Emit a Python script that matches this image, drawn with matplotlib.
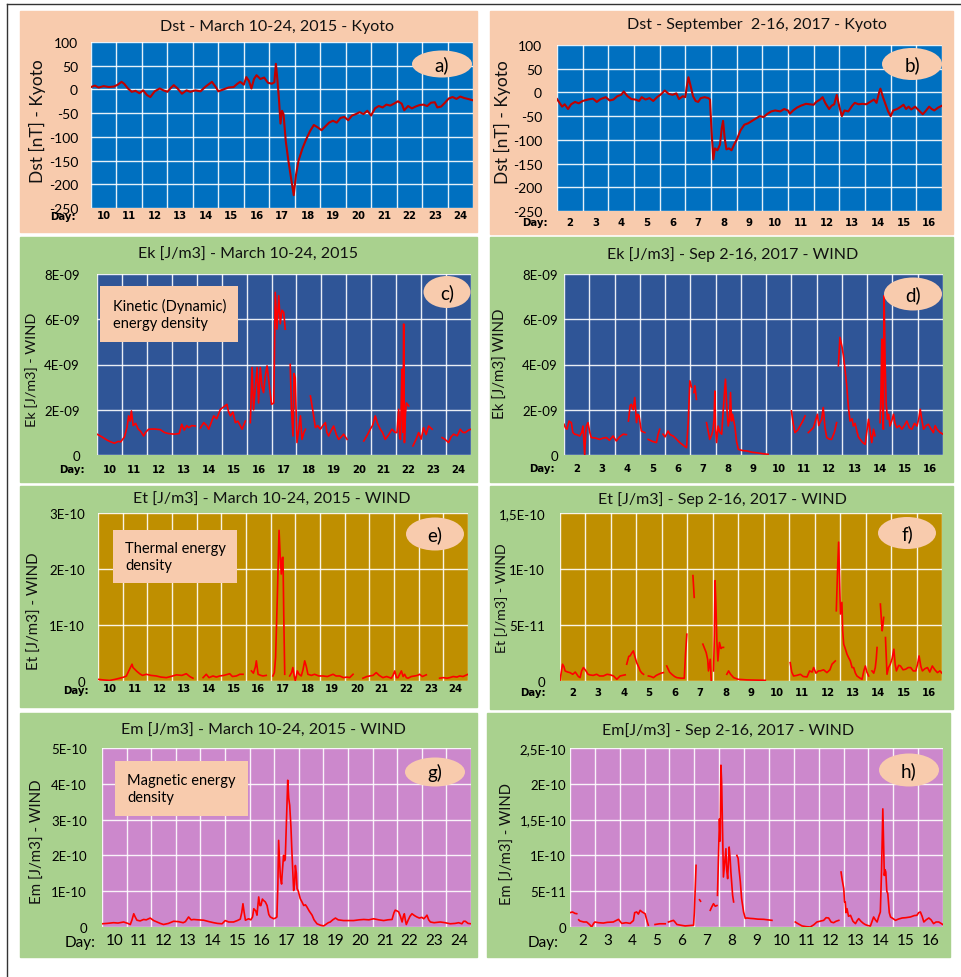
import numpy as np
import matplotlib.pyplot as plt
from matplotlib.lines import Line2D
from matplotlib.patches import Ellipse, Rectangle

W, H = 961, 978
plt.rcParams["font.family"] = ["Lato", "DejaVu Sans"]

# ---------------- data (day of month, value); (None, None) marks a data gap ----------------
DAYS_2015 = list(range(10, 25))
DAYS_2017 = list(range(2, 17))

# Dst [nT], March 2015
DST_2015 = [
    (10.0, 5), (10.15, 8), (10.3, 4), (10.5, 7), (10.7, 5), (10.9, 6), (11.05, 10), (11.2, 16),
    (11.3, 12), (11.45, 2), (11.6, -5), (11.75, -3), (11.9, -8), (12.05, -2), (12.2, -12), (12.33, -16),
    (12.5, -4), (12.7, 2), (12.85, -2), (13.0, -5), (13.15, 4), (13.25, 9), (13.4, 2), (13.57, -9),
    (13.75, -2), (13.9, -5), (14.1, -2), (14.3, -4), (14.5, 6), (14.75, 16), (14.9, 5), (15.0, -4),
    (15.2, 0), (15.4, 4), (15.6, 5), (15.75, 12), (15.86, 16), (16.0, 10), (16.1, 26), (16.2, 18),
    (16.3, 2), (16.4, 22), (16.5, 30), (16.65, 22), (16.8, 25), (16.95, 14), (17.1, 12), (17.2, 15),
    (17.26, 54), (17.32, 20), (17.38, -20), (17.44, -72), (17.5, -45), (17.56, -52), (17.65, -110),
    (17.75, -150), (17.85, -185), (17.96, -223), (18.05, -180), (18.15, -150), (18.3, -125),
    (18.45, -105), (18.6, -88), (18.75, -75), (18.9, -80), (19.05, -86), (19.2, -78), (19.35, -70),
    (19.5, -66), (19.65, -70), (19.8, -60), (19.95, -58), (20.1, -65), (20.25, -55), (20.4, -52),
    (20.55, -48), (20.7, -52), (20.85, -45), (21.0, -55), (21.15, -40), (21.3, -35), (21.45, -38),
    (21.6, -32), (21.75, -34), (21.9, -30), (22.05, -25), (22.2, -30), (22.3, -44), (22.45, -35),
    (22.6, -40), (22.75, -36), (22.9, -33), (23.05, -32), (23.2, -35), (23.35, -28), (23.5, -27),
    (23.6, -38), (23.75, -36), (23.9, -28), (24.05, -19), (24.2, -16), (24.35, -20), (24.5, -15),
    (24.65, -18), (24.8, -20), (25.0, -23),
]

# Dst [nT], September 2017
DST_2017 = [
    (2.0, -14), (2.1, -22), (2.2, -30), (2.3, -25), (2.43, -35), (2.55, -25), (2.7, -20), (2.85, -23),
    (3.0, -18), (3.2, -15), (3.4, -13), (3.55, -20), (3.7, -14), (3.9, -10), (4.05, -17), (4.2, -15),
    (4.35, -8), (4.5, -5), (4.6, 2), (4.75, -8), (4.9, -14), (5.05, -15), (5.2, -18), (5.3, -10),
    (5.45, -15), (5.6, -12), (5.75, -18), (5.9, -10), (6.05, -4), (6.2, 4), (6.35, -3), (6.5, -5),
    (6.65, -2), (6.75, -14), (6.9, -8), (7.0, -10), (7.05, 10), (7.12, 32), (7.2, 15), (7.3, -8),
    (7.4, -18), (7.5, -20), (7.6, -12), (7.75, -10), (7.9, -12), (7.96, -15), (8.02, -80),
    (8.09, -141), (8.15, -118), (8.25, -122), (8.35, -110), (8.42, -75), (8.47, -60), (8.53, -95),
    (8.6, -120), (8.7, -118), (8.8, -122), (8.9, -110), (9.0, -100), (9.15, -80), (9.3, -68),
    (9.45, -65), (9.6, -60), (9.75, -55), (9.9, -50), (10.05, -52), (10.2, -45), (10.35, -40),
    (10.5, -38), (10.7, -40), (10.85, -35), (11.0, -38), (11.07, -45), (11.2, -38), (11.35, -32),
    (11.5, -28), (11.7, -24), (11.85, -25), (12.0, -26), (12.1, -20), (12.25, -15), (12.35, -10),
    (12.45, -22), (12.6, -35), (12.7, -28), (12.8, -25), (12.9, -5), (13.0, -30), (13.1, -50),
    (13.2, -38), (13.35, -40), (13.5, -28), (13.6, -22), (13.75, -25), (13.9, -24), (14.05, -25),
    (14.2, -20), (14.35, -15), (14.45, -22), (14.55, 0), (14.6, 8), (14.7, -10), (14.8, -25),
    (14.9, -40), (15.0, -50), (15.1, -38), (15.25, -35), (15.4, -30), (15.5, -26), (15.6, -35),
    (15.7, -30), (15.8, -36), (15.95, -30), (16.1, -38), (16.25, -46), (16.35, -40), (16.5, -30),
    (16.6, -35), (16.7, -38), (16.85, -32), (17.0, -28),
]

# Ek [1E-09 J/m3], March 2015
EK_2015 = [
    (10.0, 0.92), (10.2, 0.8), (10.4, 0.66), (10.55, 0.58), (10.7, 0.52), (10.85, 0.6), (10.95, 0.58),
    (11.1, 0.8), (11.2, 1.2), (11.27, 1.73), (11.33, 1.5), (11.38, 1.95), (11.45, 1.3), (11.55, 1.4),
    (11.65, 1.15), (11.75, 1.05), (11.87, 0.84), (11.95, 1.0), (12.07, 1.14), (12.3, 1.15),
    (12.54, 1.12), (12.7, 1.0), (12.85, 0.95), (13.1, 0.92), (13.3, 0.95), (13.4, 1.36), (13.5, 1.1),
    (13.6, 1.3), (13.68, 1.21), (13.8, 1.3), (13.94, 1.28), (None, None),
    (14.15, 1.2), (14.28, 1.43), (14.4, 1.3), (14.48, 1.14), (14.6, 1.5), (14.68, 1.73), (14.8, 1.6),
    (14.95, 2.02), (15.05, 2.1), (15.21, 2.24), (15.28, 1.9), (15.35, 1.73), (15.45, 1.9),
    (15.55, 1.43), (15.65, 1.5), (15.82, 1.14), (15.95, 1.5), (None, None),
    (16.15, 1.43), (16.22, 3.87), (16.28, 2.0), (16.35, 3.0), (16.42, 3.87), (16.48, 2.3),
    (16.55, 3.87), (16.62, 3.0), (16.68, 2.76), (16.75, 3.5), (16.82, 3.94), (16.9, 3.2), (17.0, 2.24),
    (17.09, 2.3), (17.15, 7.19), (17.22, 5.56), (17.29, 7.04), (17.35, 5.8), (17.42, 6.4),
    (17.49, 6.3), (17.55, 5.56), (None, None),
    (17.75, 4.0), (17.8, 2.0), (17.86, 0.84), (17.9, 3.6), (17.95, 3.42), (18.02, 0.55), (18.1, 1.2),
    (18.16, 1.73), (18.22, 0.69), (18.3, 1.0), (18.36, 1.14), (None, None),
    (18.56, 2.61), (18.65, 2.0), (18.76, 1.21), (18.85, 1.3), (18.96, 1.14), (19.06, 1.3),
    (19.16, 1.43), (19.22, 1.0), (19.29, 0.84), (19.4, 1.1), (19.49, 1.28), (19.6, 0.9), (19.69, 0.69),
    (19.8, 0.8), (19.89, 0.92), (20.03, 0.69), (None, None),
    (20.7, 0.62), (20.85, 0.9), (20.96, 1.14), (21.05, 1.3), (21.16, 1.73), (21.25, 1.4),
    (21.36, 1.14), (21.45, 1.0), (21.56, 0.69), (21.7, 0.9), (21.83, 1.14), (21.95, 1.0),
    (22.03, 0.99), (22.1, 2.02), (22.14, 0.8), (22.17, 0.69), (22.2, 2.1), (22.23, 3.79), (22.27, 1.0),
    (22.3, 5.79), (22.33, 0.55), (22.37, 1.8), (22.41, 2.3), (22.5, 2.17), (None, None),
    (22.67, 0.4), (22.8, 0.7), (22.9, 0.99), (23.0, 0.7), (23.1, 1.21), (23.2, 0.9), (23.3, 1.28),
    (23.44, 1.14), (None, None),
    (23.84, 0.77), (23.95, 0.7), (24.1, 0.55), (24.2, 0.8), (24.3, 0.92), (24.45, 0.85), (24.57, 1.14),
    (24.67, 1.0), (24.77, 0.99), (24.9, 1.1), (25.0, 1.14),
]

# Ek [1E-09 J/m3], September 2017
EK_2017 = [
    (2.0, 1.36), (2.06, 1.2), (2.12, 1.14), (2.2, 1.5), (2.29, 1.43), (2.35, 1.0), (2.42, 0.92),
    (2.5, 0.9), (2.62, 0.84), (2.7, 1.0), (2.75, 1.28), (2.8, 0.4), (2.82, 0.0), (2.86, 1.0),
    (2.89, 1.28), (2.95, 1.43), (3.02, 1.0), (3.08, 0.77), (3.25, 0.75), (3.41, 0.69), (3.55, 0.75),
    (3.68, 0.77), (3.8, 0.65), (3.94, 0.84), (4.07, 0.62), (4.2, 0.8), (4.34, 0.92), (4.47, 0.9),
    (None, None),
    (4.55, 1.5), (4.62, 2.2), (4.67, 2.24), (4.74, 2.0), (4.8, 2.54), (4.87, 1.43), (4.92, 1.8),
    (4.97, 1.73), (5.06, 1.06), (5.2, 0.99), (None, None),
    (5.33, 0.69), (5.5, 0.6), (5.66, 0.55), (5.72, 0.9), (5.79, 1.14), (None, None),
    (5.92, 0.92), (6.0, 0.8), (6.12, 1.06), (6.2, 0.9), (6.32, 0.84), (6.45, 0.7), (6.58, 0.55),
    (6.7, 0.45), (6.85, 0.32), (6.92, 1.5), (6.98, 3.28), (7.05, 3.0), (None, None),
    (7.14, 2.76), (7.18, 3.06), (7.24, 2.46), (None, None),
    (7.64, 1.43), (7.7, 1.1), (7.77, 0.69), (7.85, 0.9), (7.9, 1.14), (7.94, 1.6), (7.97, 2.83),
    (8.0, 1.2), (8.04, 0.55), (8.1, 1.28), (8.17, 1.0), (8.24, 0.92), (8.3, 1.95), (8.39, 3.35),
    (8.45, 2.0), (8.5, 1.28), (8.55, 1.6), (8.59, 2.76), (8.63, 1.5), (8.67, 1.8), (8.72, 1.5),
    (8.76, 1.28), (8.83, 0.6), (8.9, 0.25), (9.05, 0.2), (9.23, 0.18), (9.45, 0.12), (9.62, 0.1),
    (9.85, 0.06), (10.08, 0.03), (None, None),
    (11.0, 1.95), (11.07, 1.4), (11.14, 0.99), (11.25, 1.1), (11.34, 1.28), (11.45, 1.5),
    (11.54, 1.73), (None, None),
    (11.67, 0.99), (11.77, 1.1), (11.87, 1.21), (11.95, 1.5), (12.03, 1.8), (12.08, 1.3),
    (12.13, 1.43), (12.2, 1.6), (12.26, 2.1), (12.33, 1.2), (12.4, 0.77), (12.5, 0.7), (12.59, 0.69),
    (12.7, 1.0), (12.79, 1.43), (None, None),
    (12.86, 3.94), (12.92, 5.2), (13.0, 4.8), (13.06, 4.38), (13.12, 3.8), (13.19, 3.06),
    (13.25, 2.2), (13.32, 1.5), (13.4, 1.6), (13.45, 1.28), (13.52, 1.4), (13.59, 1.06), (13.65, 0.8),
    (13.72, 0.69), (13.82, 0.55), (13.92, 0.47), (13.98, 1.0), (14.05, 1.58), (14.12, 1.0),
    (14.18, 0.55), (14.25, 1.14), (14.31, 0.85), (None, None),
    (14.51, 1.43), (14.55, 3.0), (14.58, 5.12), (14.61, 2.0), (14.64, 1.14), (14.67, 7.04),
    (14.71, 4.0), (14.75, 2.3), (14.8, 1.58), (14.85, 1.8), (14.9, 1.28), (14.97, 1.5), (15.04, 1.8),
    (15.1, 1.4), (15.17, 1.21), (15.27, 1.3), (15.37, 1.14), (15.47, 1.3), (15.57, 1.5), (15.67, 1.2),
    (15.77, 1.14), (15.87, 1.4), (15.97, 1.28), (16.04, 1.6), (16.1, 2.02), (16.17, 1.5),
    (16.23, 1.14), (16.33, 1.3), (16.42, 1.36), (16.5, 1.2), (16.62, 0.99), (16.69, 1.3),
    (16.76, 1.14), (16.88, 1.0), (17.0, 0.92),
]

# Et [1E-10 J/m3], March 2015
ET_2015 = [
    (10.0, 0.03), (10.2, 0.02), (10.47, 0.01), (10.7, 0.03), (10.88, 0.05), (11.05, 0.07),
    (11.15, 0.09), (11.28, 0.21), (11.38, 0.3), (11.42, 0.24), (11.49, 0.21), (11.58, 0.17),
    (11.69, 0.13), (11.8, 0.1), (11.96, 0.12), (12.15, 0.1), (12.36, 0.09), (12.55, 0.07),
    (12.77, 0.06), (12.95, 0.08), (13.18, 0.11), (13.4, 0.1), (13.58, 0.13), (13.72, 0.08),
    (13.85, 0.05), (None, None),
    (14.26, 0.06), (14.39, 0.12), (14.5, 0.06), (14.66, 0.09), (14.8, 0.07), (14.93, 0.09),
    (15.1, 0.1), (15.34, 0.13), (15.45, 0.08), (15.61, 0.09), (15.75, 0.12), (15.88, 0.12),
    (None, None),
    (16.22, 0.18), (16.3, 0.14), (16.38, 0.25), (16.42, 0.36), (16.49, 0.12), (16.6, 0.1),
    (16.69, 0.09), (16.82, 0.1), (None, None),
    (17.09, 0.09), (17.15, 0.15), (17.2, 0.42), (17.27, 1.5), (17.34, 2.69), (17.39, 2.2),
    (17.43, 1.91), (17.47, 2.2), (17.5, 2.21), (17.53, 1.2), (17.57, 0.12), (None, None),
    (17.77, 0.09), (17.85, 0.15), (17.9, 0.24), (17.95, 0.1), (18.0, 0.0), (18.08, 0.18),
    (18.15, 0.12), (18.24, 0.09), (18.31, 0.2), (18.38, 0.36), (18.45, 0.25), (18.51, 0.12),
    (18.65, 0.1), (18.78, 0.12), (18.95, 0.09), (19.12, 0.09), (19.3, 0.08), (19.53, 0.12),
    (19.65, 0.09), (19.8, 0.09), (19.95, 0.06), (20.1, 0.07), (20.2, 0.06), (20.34, 0.12),
    (None, None),
    (20.74, 0.05), (20.9, 0.08), (21.01, 0.09), (21.15, 0.1), (21.28, 0.15), (21.4, 0.1),
    (21.55, 0.06), (21.7, 0.08), (21.89, 0.05), (21.96, 0.1), (22.03, 0.18), (22.1, 0.06),
    (22.16, 0.06), (22.23, 0.12), (22.3, 0.18), (22.37, 0.08), (22.43, 0.12), (22.5, 0.06),
    (22.57, 0.05), (22.7, 0.08), (22.84, 0.09), (22.95, 0.1), (23.04, 0.12), (23.15, 0.08),
    (23.31, 0.11), (None, None),
    (23.85, 0.05), (24.0, 0.06), (24.15, 0.05), (24.26, 0.06), (24.4, 0.08), (24.55, 0.07),
    (24.66, 0.09), (24.8, 0.08), (25.0, 0.12),
]

# Et [1E-11 J/m3], September 2017
ET_2017 = [
    (2.0, 0.0), (2.05, 0.8), (2.1, 1.5), (2.15, 1.3), (2.2, 0.9), (2.3, 0.8), (2.39, 0.75),
    (2.5, 0.6), (2.6, 0.8), (2.66, 0.6), (2.72, 0.4), (2.79, 0.3), (2.85, 0.9), (2.92, 1.2),
    (3.02, 0.9), (3.1, 0.6), (3.18, 0.54), (3.3, 0.5), (3.44, 0.6), (3.55, 0.45), (3.7, 0.45),
    (3.85, 0.6), (3.97, 0.55), (4.1, 0.45), (4.23, 0.15), (4.36, 0.45), (4.46, 0.5), (4.56, 0.55),
    (None, None),
    (4.62, 1.5), (4.7, 2.2), (4.75, 2.24), (4.82, 2.5), (4.88, 2.69), (4.95, 2.1), (5.01, 1.64),
    (5.1, 1.2), (5.15, 0.9), (5.22, 0.7), (5.28, 0.6), (None, None),
    (5.47, 0.45), (5.57, 0.4), (5.67, 0.3), (5.78, 0.5), (5.87, 0.6), (5.97, 0.7), (6.06, 0.75),
    (None, None),
    (6.19, 1.34), (6.3, 0.8), (6.39, 0.6), (6.5, 0.4), (6.59, 0.3), (6.75, 0.25), (6.88, 0.25),
    (6.93, 2.5), (6.98, 4.18), (None, None),
    (7.22, 9.41), (7.27, 7.47), (None, None),
    (7.61, 3.29), (7.68, 2.9), (7.74, 2.54), (7.8, 1.9), (7.83, 0.9), (7.9, 1.94), (7.94, 0.0),
    (None, None),
    (8.03, 0.9), (8.06, 4.0), (8.09, 8.96), (8.12, 7.0), (8.16, 3.59), (8.2, 1.79), (8.26, 3.44),
    (8.32, 2.9), (8.36, 2.99), (8.42, 3.0), (None, None),
    (8.55, 0.6), (8.62, 0.9), (8.7, 0.6), (8.82, 0.3), (9.0, 0.15), (9.34, 0.1), (9.7, 0.08),
    (10.06, 0.06), (None, None),
    (11.04, 1.64), (11.1, 0.8), (11.17, 0.45), (11.3, 0.5), (11.44, 0.6), (11.55, 0.4), (11.7, 0.36),
    (11.8, 0.9), (11.9, 0.8), (11.96, 1.2), (12.05, 0.7), (12.15, 0.9), (12.22, 0.9), (12.35, 1.0),
    (12.48, 0.75), (12.6, 1.0), (12.68, 1.5), (12.81, 1.79), (None, None),
    (12.85, 6.27), (12.9, 10.0), (12.94, 12.4), (12.98, 9.0), (13.01, 5.98), (13.07, 7.02),
    (13.1, 4.5), (13.14, 3.29), (13.2, 2.9), (13.27, 2.39), (13.33, 2.1), (13.4, 1.79), (13.47, 1.2),
    (13.53, 1.2), (13.6, 0.7), (13.66, 0.45), (13.75, 0.3), (13.86, 0.15), (13.93, 0.9),
    (13.99, 1.34), (14.05, 0.8), (14.12, 0.45), (None, None),
    (14.25, 0.9), (14.32, 0.7), (14.38, 1.2), (14.42, 2.0), (14.45, 2.99), (None, None),
    (14.58, 6.87), (14.62, 5.5), (14.65, 4.48), (14.68, 5.0), (14.71, 5.68), (None, None),
    (14.78, 3.88), (14.84, 0.6), (14.9, 1.2), (14.97, 1.5), (15.04, 2.0), (15.11, 2.84), (15.16, 1.5),
    (15.21, 0.9), (15.3, 1.4), (15.37, 1.34), (15.47, 1.0), (15.57, 1.05), (15.67, 1.2),
    (15.77, 1.2), (15.87, 0.9), (15.97, 0.9), (16.04, 1.5), (16.1, 2.24), (16.17, 1.3), (16.23, 0.9),
    (16.33, 1.1), (16.43, 1.2), (16.52, 0.8), (16.62, 1.34), (16.72, 1.0), (16.82, 0.75),
    (16.92, 0.9), (17.0, 0.7),
]

# Em [1E-10 J/m3], March 2015
EM_2015 = [
    (10.0, 0.09), (10.2, 0.1), (10.47, 0.12), (10.65, 0.11), (10.88, 0.14), (11.05, 0.1),
    (11.15, 0.07), (11.22, 0.2), (11.29, 0.37), (11.35, 0.28), (11.42, 0.19), (11.55, 0.17),
    (11.69, 0.21), (11.8, 0.2), (11.96, 0.25), (12.1, 0.18), (12.24, 0.14), (12.37, 0.1),
    (12.5, 0.07), (12.7, 0.1), (12.91, 0.16), (13.1, 0.15), (13.3, 0.12), (13.39, 0.15),
    (13.52, 0.28), (13.62, 0.2), (13.73, 0.21), (13.9, 0.2), (14.13, 0.19), (14.35, 0.15),
    (14.54, 0.12), (14.7, 0.1), (14.88, 0.09), (15.01, 0.18), (15.15, 0.14), (15.35, 0.14),
    (15.5, 0.18), (15.62, 0.22), (15.68, 0.4), (15.73, 0.65), (15.78, 0.4), (15.83, 0.19),
    (15.96, 0.23), (16.05, 0.2), (16.12, 0.28), (16.17, 0.51), (16.25, 0.45), (16.3, 0.33),
    (16.37, 0.84), (16.42, 0.6), (16.46, 0.6), (16.52, 0.78), (16.57, 0.74), (16.64, 0.7),
    (16.71, 0.6), (16.78, 0.35), (16.84, 0.28), (16.93, 0.25), (16.98, 0.23), (17.05, 0.25),
    (17.11, 0.28), (17.15, 1.2), (17.18, 2.42), (17.22, 1.8), (17.25, 1.4), (17.3, 1.2),
    (17.32, 1.44), (17.38, 2.0), (17.42, 1.85), (17.45, 1.91), (17.5, 3.0), (17.55, 4.1),
    (17.59, 3.6), (17.63, 3.4), (17.68, 2.8), (17.72, 2.1), (17.76, 1.5), (17.79, 1.02),
    (17.83, 1.2), (17.86, 1.72), (17.9, 1.5), (17.93, 1.07), (17.98, 1.0), (18.06, 0.79),
    (18.13, 0.7), (18.2, 0.6), (18.27, 0.62), (18.33, 0.56), (18.42, 0.45), (18.54, 0.33),
    (18.62, 0.2), (18.74, 0.09), (18.88, 0.05), (19.01, 0.03), (19.12, 0.08), (19.2, 0.12),
    (19.28, 0.14), (19.38, 0.2), (19.49, 0.25), (19.6, 0.2), (19.82, 0.18), (20.0, 0.18),
    (20.23, 0.18), (20.45, 0.2), (20.64, 0.21), (20.85, 0.2), (21.04, 0.23), (21.25, 0.2),
    (21.45, 0.18), (21.62, 0.2), (21.79, 0.21), (21.87, 0.4), (21.92, 0.47), (21.99, 0.45),
    (22.06, 0.42), (22.13, 0.3), (22.2, 0.14), (22.25, 0.3), (22.29, 0.37), (22.33, 0.2),
    (22.37, 0.07), (22.45, 0.2), (22.52, 0.3), (22.6, 0.37), (22.7, 0.32), (22.8, 0.28),
    (22.9, 0.25), (23.0, 0.27), (23.08, 0.23), (23.15, 0.28), (23.21, 0.33), (23.28, 0.2),
    (23.35, 0.14), (23.5, 0.12), (23.75, 0.14), (23.95, 0.12), (24.15, 0.09), (24.35, 0.1),
    (24.5, 0.12), (24.63, 0.09), (24.7, 0.16), (24.77, 0.16), (24.88, 0.1), (25.0, 0.09),
]

# Em [1E-11 J/m3], September 2017
EM_2017 = [
    (2.0, 2.0), (2.1, 2.1), (2.2, 1.9), (2.27, 1.86), (None, None),
    (2.35, 1.0), (2.4, 0.84), (2.55, 0.7), (2.67, 0.7), (2.8, 0.3), (2.87, 0.0), (2.95, 0.5),
    (3.0, 0.7), (3.15, 0.6), (3.34, 0.55), (3.5, 0.65), (3.74, 0.7), (3.85, 0.9), (3.95, 1.07),
    (4.08, 0.5), (4.25, 0.6), (4.42, 0.5), (4.55, 0.9), (4.6, 2.0), (4.68, 2.1), (4.75, 1.8),
    (4.82, 2.33), (4.9, 2.1), (5.02, 1.86), (5.1, 0.8), (5.15, 0.25), (None, None),
    (5.42, 0.35), (5.6, 0.45), (5.83, 0.45), (None, None),
    (5.96, 0.7), (6.05, 0.8), (6.16, 0.93), (6.22, 0.7), (6.3, 0.35), (6.45, 0.25), (6.63, 0.15),
    (6.8, 0.2), (6.97, 0.25), (7.0, 2.0), (7.04, 6.0), (7.07, 8.61), (None, None),
    (7.21, 3.8), (7.25, 3.6), (None, None),
    (7.64, 2.33), (7.7, 2.8), (7.77, 3.26), (7.84, 2.9), (7.91, 3.0), (None, None),
    (7.93, 4.42), (7.97, 10.0), (8.01, 15.1), (8.04, 12.0), (8.07, 22.6), (8.1, 20.0), (8.13, 14.7),
    (8.17, 6.98), (8.22, 9.0), (8.27, 10.94), (8.3, 8.0), (8.34, 6.75), (8.37, 9.0), (8.4, 11.17),
    (8.44, 9.5), (8.47, 7.68), (8.54, 4.42), (8.58, 3.5), (None, None),
    (8.71, 10.0), (8.76, 9.6), (8.8, 8.0), (8.85, 6.3), (8.9, 4.0), (8.98, 2.1), (9.05, 1.2),
    (9.11, 1.26), (9.25, 1.2), (9.38, 1.17), (9.55, 1.1), (9.79, 1.07), (9.95, 1.0), (10.12, 0.93),
    (None, None),
    (11.06, 0.7), (11.15, 0.5), (11.33, 0.15), (11.5, 0.05), (11.66, 0.0), (11.8, 0.3),
    (11.93, 0.7), (12.05, 0.8), (12.2, 0.93), (12.3, 1.3), (12.4, 1.26), (12.5, 0.7), (12.6, 0.6),
    (12.7, 0.8), (12.81, 0.93), (None, None),
    (12.9, 7.68), (12.95, 6.5), (13.01, 5.35), (13.04, 3.5), (13.07, 3.49), (13.1, 2.0),
    (13.14, 2.56), (13.2, 1.5), (13.28, 1.63), (13.38, 0.8), (13.48, 0.47), (13.55, 0.9),
    (13.61, 1.17), (13.7, 0.8), (13.8, 0.5), (13.88, 0.33), (13.98, 0.2), (14.08, 0.14),
    (14.15, 0.8), (14.21, 1.4), (14.28, 1.0), (14.35, 0.7), (14.42, 1.5), (14.48, 2.1), (14.53, 8.0),
    (14.58, 16.5), (14.61, 12.0), (14.64, 7.2), (14.67, 8.0), (14.7, 7.68), (14.74, 5.0),
    (14.78, 4.66), (14.84, 2.0), (14.89, 1.4), (14.98, 1.2), (15.09, 0.93), (15.2, 1.1),
    (15.36, 1.26), (15.5, 1.3), (15.69, 1.4), (15.85, 1.6), (15.95, 1.63), (16.02, 2.0),
    (16.09, 2.1), (16.16, 1.5), (16.23, 0.7), (16.32, 1.0), (16.43, 1.26), (16.52, 1.0),
    (16.62, 0.47), (16.72, 0.7), (16.83, 0.7), (16.92, 0.5), (17.0, 0.33),
]

DST_TICKS = [-250, -200, -150, -100, -50, 0, 50, 100]
DST_LABELS = ["-250", "-200", "-150", "-100", "-50", "0", "50", "100"]
EK_TICKS = [0, 2e-9, 4e-9, 6e-9, 8e-9]
EK_LABELS = ["0", "2E-09", "4E-09", "6E-09", "8E-09"]
ET15_TICKS = [0, 1e-10, 2e-10, 3e-10]
ET15_LABELS = ["0", "1E-10", "2E-10", "3E-10"]
ET17_TICKS = [0, 5e-11, 1e-10, 1.5e-10]
ET17_LABELS = ["0", "5E-11", "1E-10", "1,5E-10"]
EM15_TICKS = [0, 1e-10, 2e-10, 3e-10, 4e-10, 5e-10]
EM15_LABELS = ["0", "1E-10", "2E-10", "3E-10", "4E-10", "5E-10"]
EM17_TICKS = [0, 5e-11, 1e-10, 1.5e-10, 2e-10, 2.5e-10]
EM17_LABELS = ["0", "5E-11", "1E-10", "1,5E-10", "2E-10", "2,5E-10"]

# ---------------- styling ----------------
PEACH = "#F8CBAD"
GREEN = "#A9D18E"
DST_RED = "#C00000"
RED = "#FF0000"

# pixel layout of each panel: (x0, y0, x1, y1) measured from the top-left corner
PANELS = {
    "a": dict(bg=(20, 12, 477, 233), bgc=PEACH, box=(91, 43, 473, 209), face="#0070C0",
              title="Dst - March 10-24, 2015 - Kyoto", title_xy=(277, 27),
              ylabel="Dst [nT] - Kyoto", ylabel_xy=(37, 121), ylabel_fs=12.5, ypad=13, tick_fs=10,
              xpad=2, day_xy=(63, 217), badge=(442, 65, 60, 27), bold_days=True),
    "b": dict(bg=(490, 12, 953, 235), bgc=PEACH, box=(557, 46, 942, 212), face="#0070C0",
              title="Dst - September  2-16, 2017 - Kyoto", title_xy=(757, 25),
              ylabel="Dst [nT] - Kyoto", ylabel_xy=(502, 122), ylabel_fs=12.5, ypad=15, tick_fs=10,
              xpad=6, day_xy=(535, 223), badge=(912, 65, 60, 32), bold_days=True),
    "c": dict(bg=(20, 238, 477, 483), bgc=GREEN, box=(97, 275, 471, 456), face="#2F5597",
              title="Ek [J/m3] - March 10-24, 2015", title_xy=(248, 255),
              ylabel="Ek [J/m3] - WIND", ylabel_xy=(32, 370), ylabel_fs=10.4, ypad=17, tick_fs=9.5,
              xpad=9, day_xy=(72, 470), badge=(447, 293, 47, 32), bold_days=True,
              note="Kinetic (Dynamic)\nenergy density", note_box=(100, 287, 238, 343), note_x=113),
    "d": dict(bg=(490, 238, 953, 483), bgc=GREEN, box=(564, 275, 943, 456), face="#2F5597",
              title="Ek [J/m3] - Sep 2-16, 2017 - WIND", title_xy=(733, 255),
              ylabel="Ek [J/m3] WIND", ylabel_xy=(501, 364), ylabel_fs=10.8, ypad=6, tick_fs=9.5,
              xpad=8, day_xy=(542, 469), badge=(913, 295, 58, 33), bold_days=True),
    "e": dict(bg=(20, 487, 477, 708), bgc=GREEN, box=(98, 514, 468, 682), face="#BF8F00",
              title="Et [J/m3] - March 10-24, 2015 - WIND", title_xy=(272, 500),
              ylabel="Et [J/m3] - WIND", ylabel_xy=(35, 611), ylabel_fs=10.8, ypad=13, tick_fs=9.5,
              xpad=2, day_xy=(76, 691), badge=(435, 535, 58, 33), bold_days=True,
              note="Thermal energy\ndensity", note_box=(113, 531, 237, 584), note_x=125),
    "f": dict(bg=(490, 487, 953, 710), bgc=GREEN, box=(560, 514, 942, 682), face="#BF8F00",
              title="Et [J/m3] - Sep 2-16, 2017 - WIND", title_xy=(722, 500),
              ylabel="Et [J/m3] - WIND", ylabel_xy=(502, 598), ylabel_fs=10.2, ypad=15, tick_fs=9.5,
              xpad=6, day_xy=(533, 693), badge=(907, 534, 58, 32), bold_days=True),
    "g": dict(bg=(20, 714, 477, 958), bgc=GREEN, box=(102, 749, 471, 928), face="#CC88CC",
              title="Em [J/m3] - March 10-24, 2015 - WIND", title_xy=(263, 731),
              ylabel="Em [J/m3] - WIND", ylabel_xy=(38, 842), ylabel_fs=10.8, ypad=15, tick_fs=9.5,
              xpad=6, day_xy=(80, 943), badge=(435, 773, 60, 29), bold_days=False,
              note="Magnetic energy\ndensity", note_box=(115, 762, 248, 817), note_x=127),
    "h": dict(bg=(487, 714, 950, 958), bgc=GREEN, box=(570, 749, 943, 928), face="#CC88CC",
              title="Em[J/m3] - Sep 2-16, 2017 - WIND", title_xy=(728, 731),
              ylabel="Em [J/m3] - WIND", ylabel_xy=(508, 844), ylabel_fs=10.6, ypad=4, tick_fs=9.5,
              xpad=6, day_xy=(543, 943), badge=(909, 771, 60, 33), bold_days=False),
}


def fx(x):
    return x / W


def fy(y):
    return 1 - y / H


def draw_panel(fig, key, series, scale, days, yticks, ylabels, color, lw):
    p = PANELS[key]
    x0, y0, x1, y1 = p["bg"]
    fig.add_artist(Rectangle((fx(x0), fy(y1)), (x1 - x0) / W, (y1 - y0) / H,
                             transform=fig.transFigure, color=p["bgc"], zorder=-2))
    x0, y0, x1, y1 = p["box"]
    ax = fig.add_axes([fx(x0), fy(y1), (x1 - x0) / W, (y1 - y0) / H])
    ax.set_facecolor(p["face"])
    for s in ax.spines.values():
        s.set_visible(False)

    t = np.array([v[0] for v in series], dtype=float)
    y = np.array([v[1] for v in series], dtype=float) * scale
    ax.plot(t, y, color=color, lw=lw, zorder=3)

    ax.set_xlim(days[0], days[-1] + 1)
    ax.set_ylim(yticks[0], yticks[-1])
    ax.set_xticks(np.arange(days[0], days[-1] + 2))
    ax.set_xticks(np.array(days) + 0.5, labels=[str(d) for d in days], minor=True)
    ax.set_yticks(yticks, labels=ylabels)
    ax.tick_params(axis="x", which="major", labelbottom=False, length=0)
    ax.tick_params(axis="x", which="minor", length=0, pad=p["xpad"] * 0.72)
    ax.tick_params(axis="y", length=0, pad=p["ypad"] * 0.72, labelsize=p["tick_fs"])
    ax.grid(True, which="major", color="white", lw=1.0, alpha=0.9, zorder=1)
    ax.set_axisbelow(True)

    if p["bold_days"]:
        day_font = dict(family="DejaVu Sans", weight="bold", size=7.3)
    else:
        day_font = dict(size=11)
    for lab in ax.get_xticklabels(minor=True):
        lab.set_fontproperties(day_font)
    fig.text(fx(p["day_xy"][0]), fy(p["day_xy"][1]), "Day:", ha="center", va="center",
             fontproperties=day_font)

    fig.text(fx(p["title_xy"][0]), fy(p["title_xy"][1]), p["title"], ha="center", va="center",
             fontsize=11.5, color="#111111")
    fig.text(fx(p["ylabel_xy"][0]), fy(p["ylabel_xy"][1]), p["ylabel"], rotation=90,
             ha="center", va="center", fontsize=p["ylabel_fs"], color="#111111")

    cx, cy, bw, bh = p["badge"]
    fig.add_artist(Ellipse((fx(cx), fy(cy)), bw / W, bh / H, transform=fig.transFigure,
                           fc=PEACH, ec="none", zorder=5))
    fig.text(fx(cx), fy(cy), key + ")", ha="center", va="center", fontsize=13.5, zorder=6)

    if "note" in p:
        nx0, ny0, nx1, ny1 = p["note_box"]
        fig.add_artist(Rectangle((fx(nx0), fy(ny1)), (nx1 - nx0) / W, (ny1 - ny0) / H,
                                 transform=fig.transFigure, fc=PEACH, ec="none", zorder=5))
        fig.text(fx(p["note_x"]), fy((ny0 + ny1) / 2), p["note"], ha="left", va="center",
                 fontsize=10.5, linespacing=1.3, zorder=6)
    return ax


fig = plt.figure(figsize=(W / 100, H / 100), dpi=100)

draw_panel(fig, "a", DST_2015, 1, DAYS_2015, DST_TICKS, DST_LABELS, DST_RED, 1.5)
draw_panel(fig, "b", DST_2017, 1, DAYS_2017, DST_TICKS, DST_LABELS, DST_RED, 1.5)
draw_panel(fig, "c", EK_2015, 1e-9, DAYS_2015, EK_TICKS, EK_LABELS, RED, 1.2)
draw_panel(fig, "d", EK_2017, 1e-9, DAYS_2017, EK_TICKS, EK_LABELS, RED, 1.2)
draw_panel(fig, "e", ET_2015, 1e-10, DAYS_2015, ET15_TICKS, ET15_LABELS, RED, 1.2)
draw_panel(fig, "f", ET_2017, 1e-11, DAYS_2017, ET17_TICKS, ET17_LABELS, RED, 1.2)
draw_panel(fig, "g", EM_2015, 1e-10, DAYS_2015, EM15_TICKS, EM15_LABELS, RED, 1.2)
draw_panel(fig, "h", EM_2017, 1e-11, DAYS_2017, EM17_TICKS, EM17_LABELS, RED, 1.2)

# thin outer frame (top and left edges)
fig.add_artist(Line2D([fx(7), 1], [fy(5), fy(5)], transform=fig.transFigure, color="#333333", lw=1))
fig.add_artist(Line2D([fx(7), fx(7)], [0, fy(5)], transform=fig.transFigure, color="#333333", lw=1))

fig.savefig("out.png", dpi=100)
